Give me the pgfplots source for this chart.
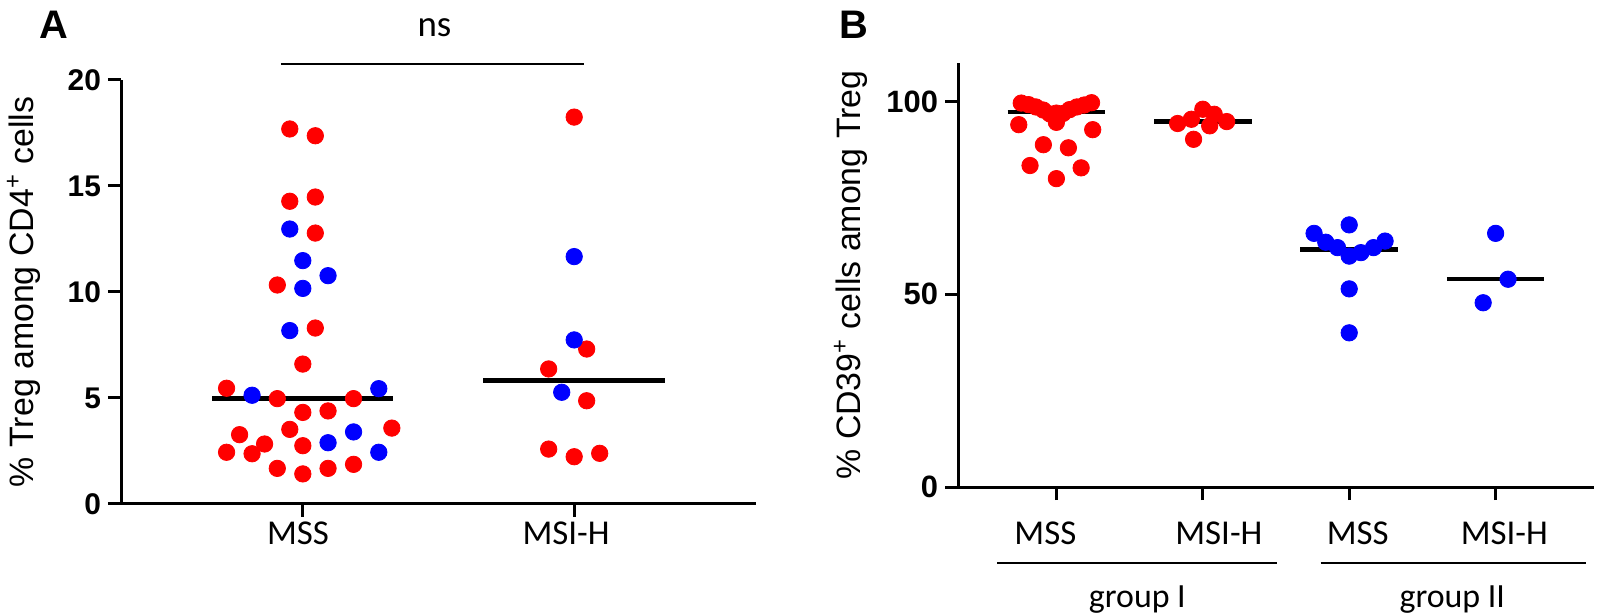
\documentclass[border=0pt]{standalone}
\usepackage{fontspec}
\setmainfont{Liberation Sans}
\newfontfamily\carlito{Carlito}
\usepackage{pgfplots}
\pgfplotsset{compat=1.18}
\definecolor{dotred}{RGB}{255,0,0}
\definecolor{dotblue}{RGB}{0,0,255}
\pgfplotsset{
  gp/.style={
    scale only axis, axis lines=left,
    axis line style={-, line width=1.5bp},
    tick align=outside, major tick length=6.5bp,
    tick style={line width=1.5bp, black},
    clip=false,
    xticklabels={},
    /pgf/number format/assume math mode=true,
  },
  dotr/.style={only marks, mark=*, mark size=4.1bp, color=dotred},
  dotb/.style={only marks, mark=*, mark size=4.1bp, color=dotblue},
  med/.style={black, line width=2.2bp, mark=none},
}
\tikzset{
  catlab/.style={anchor=base, font=\carlito\fontsize{17.5}{19}\selectfont},
  grplab/.style={anchor=base, font=\carlito\fontsize{17}{19}\selectfont},
}
\begin{document}
\begin{tikzpicture}
\useasboundingbox (0,0) rectangle (800bp,308bp);
% ---------------- Panel A ----------------
\begin{axis}[gp, at={(60.5bp,56bp)}, anchor=south west,
  width=317.5bp, height=212bp,
  xmin=0.33, xmax=2.67, ymin=0, ymax=20,
  xtick={1,2}, ytick={0,5,10,15,20}, yticklabels={0,5,10,15,20},
  yticklabel style={font=\bfseries\fontsize{15}{17}\selectfont}]
\addplot[med] coordinates {(0.667,4.98) (1.333,4.98)};
\addplot[med] coordinates {(1.665,5.82) (2.336,5.82)};
\addplot[dotr] coordinates {
(0.952,17.69) (1.046,17.37) (0.952,14.28) (1.046,14.48) (1.046,12.78)
(0.906,10.33) (1.046,8.30) (1.000,6.60) (0.719,5.46) (0.906,4.97)
(1.187,4.97) (1.000,4.32) (1.093,4.39) (0.952,3.52) (1.328,3.58)
(0.767,3.27) (0.859,2.83) (1.000,2.75) (0.719,2.44) (0.813,2.37)
(0.906,1.68) (1.000,1.42) (1.093,1.68) (1.187,1.87)};
\addplot[dotb] coordinates {
(0.952,12.97) (1.000,11.48) (1.093,10.77) (1.000,10.17) (0.952,8.18)
(0.813,5.13) (1.280,5.44) (1.187,3.40) (1.093,2.89) (1.280,2.44)};
\addplot[dotr] coordinates {
(2.000,18.25) (2.046,7.31) (1.906,6.37) (2.046,4.87) (1.906,2.59)
(2.000,2.23) (2.094,2.39)};
\addplot[dotb] coordinates {(2.000,11.67) (2.000,7.74) (1.954,5.27)};
\draw[line width=1.1bp] (axis cs:0.919,20.75) -- (axis cs:2.037,20.75);
\node[anchor=base, font=\carlito\fontsize{18.5}{20}\selectfont] at (axis cs:1.485,22.03) {ns};
\node[catlab] at (axis cs:0.982,-1.887) {MSS};
\node[catlab] at (axis cs:1.97,-1.887) {MSI-H};
\end{axis}
% ---------------- Panel B ----------------
\begin{axis}[gp, at={(479bp,64.5bp)}, anchor=south west,
  width=318bp, height=212bp,
  xmin=0.328, xmax=4.672, ymin=0, ymax=110,
  xtick={1,2,3,4}, ytick={0,50,100}, yticklabels={0,50,100},
  yticklabel style={font=\bfseries\fontsize{15.5}{17}\selectfont}]
\addplot[med] coordinates {(0.667,97.3) (1.333,97.3)};
\addplot[med] coordinates {(1.667,94.8) (2.333,94.8)};
\addplot[med] coordinates {(2.667,61.6) (3.333,61.6)};
\addplot[med] coordinates {(3.667,54.0) (4.333,54.0)};
\addplot[dotr] coordinates {
(0.76,99.6) (0.81,99.2) (0.86,98.6) (0.91,97.8) (0.955,96.8) (1.0,94.6)
(1.0,97.0) (1.045,96.9) (1.09,97.9) (1.14,98.6) (1.19,99.1) (1.24,99.7)
(0.743,94.0) (1.248,92.7) (0.911,88.8) (1.082,88.0) (0.82,83.4)
(1.169,82.8) (1.0,80.0)};
\addplot[dotr] coordinates {
(1.828,94.3) (1.922,95.4) (2.0,98.0) (2.078,96.7) (2.163,94.8)
(2.047,93.7) (1.937,90.2)};
\addplot[dotb] coordinates {
(3.0,68.0) (2.76,65.8) (2.84,63.5) (2.92,62.1) (3.0,59.9) (3.08,60.8)
(3.166,62.1) (3.245,63.8) (3.0,51.4) (3.0,40.0)};
\addplot[dotb] coordinates {(4.0,65.8) (4.085,53.9) (3.915,47.8)};
\node[catlab] at (axis cs:0.925,-14.8) {MSS};
\node[catlab] at (axis cs:2.11,-14.8) {MSI-H};
\node[catlab] at (axis cs:3.058,-14.8) {MSS};
\node[catlab] at (axis cs:4.059,-14.8) {MSI-H};
\draw[line width=1.1bp] (axis cs:0.597,-19.7) -- (axis cs:2.51,-19.7);
\draw[line width=1.1bp] (axis cs:2.805,-19.7) -- (axis cs:4.616,-19.7);
\node[grplab] at (axis cs:1.553,-31.2) {group I};
\node[grplab] at (axis cs:3.704,-31.2) {group II};
\end{axis}
% ---------------- Labels ----------------
\node[rotate=90, anchor=base, font=\fontsize{17}{19}\selectfont] at (16.5bp,162bp) {\% Treg among CD4\textsuperscript{+} cells};
\node[rotate=90, anchor=base, font=\fontsize{17}{19}\selectfont] at (430bp,170.5bp) {\% CD39\textsuperscript{+} cells among Treg};
\node[anchor=base west, inner sep=0pt, font=\bfseries\fontsize{20}{22}\selectfont] at (19.5bp,288.5bp) {A};
\node[anchor=base west, inner sep=0pt, font=\bfseries\fontsize{20}{22}\selectfont] at (419.5bp,288.5bp) {B};
\end{tikzpicture}
\end{document}
